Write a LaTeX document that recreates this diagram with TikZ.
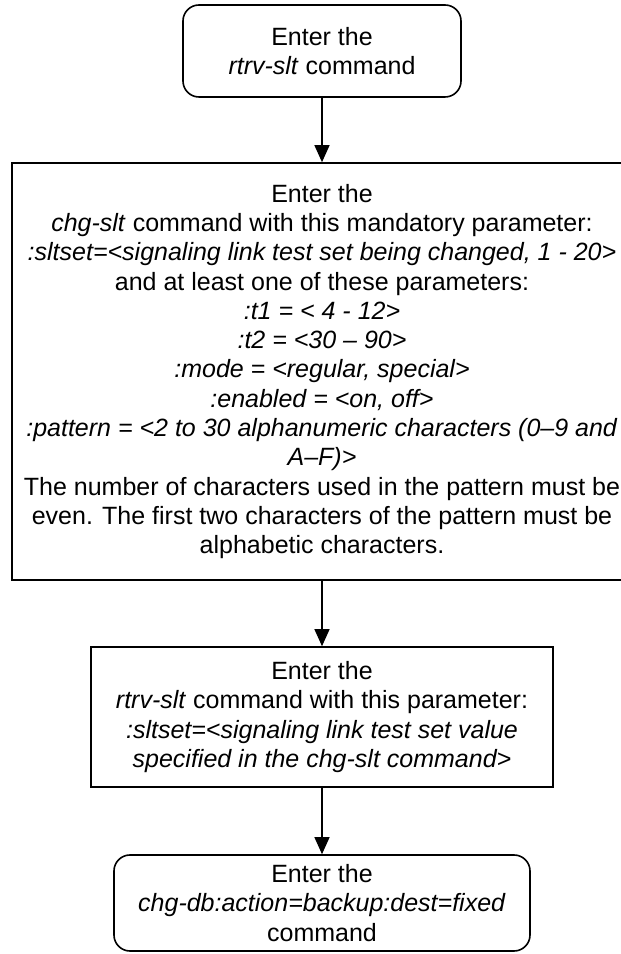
\documentclass[tikz,border=0pt]{standalone}
\usepackage{fontspec}
\setmainfont{Liberation Sans}
\usetikzlibrary{arrows.meta, positioning}

\begin{document}
\begin{tikzpicture}[x=1pt, y=1pt,
    stepbox/.style={draw, line width=1.6pt, align=center, inner sep=0pt,
      font=\fontsize{25}{29.3}\selectfont},
    termbox/.style={stepbox, rounded corners=16pt},
    flow/.style={-{Triangle[length=17pt, width=15pt]}, line width=1.2pt}]
  \useasboundingbox (0,0) rectangle (621,954);
  \node[termbox, minimum width=278, minimum height=92] (start) at (322,903)
    {Enter the\\ \textit{rtrv-slt} command};
  \node[stepbox, minimum width=620, minimum height=417] (chg) at (322,582.5)
    {Enter the\\
     \textit{chg-slt} command with this mandatory parameter:\\
     \textit{:sltset=<signaling link test set being changed, 1 - 20>}\\
     and at least one of these parameters:\\
     \textit{:t1 = < 4 - 12>}\\
     \textit{:t2 = <30 – 90>}\\
     \textit{:mode = <regular, special>}\\
     \textit{:enabled = <on, off>}\\
     \textit{:pattern = <2 to 30 alphanumeric characters (0–9 and}\\
     \textit{A–F)>}\\
     The number of characters used in the pattern must be\\
     even. The first two characters of the pattern must be\\
     alphabetic characters.};
  \node[stepbox, minimum width=462, minimum height=140] (check) at (322,237)
    {Enter the\\
     \textit{rtrv-slt} command with this parameter:\\
     \textit{:sltset=<signaling link test set value}\\
     \textit{specified in the chg-slt command>}};
  \node[termbox, minimum width=416, minimum height=96] (backup) at (322,51)
    {Enter the\\
     \textit{chg-db:action=backup:dest=fixed}\\
     command};
  \draw[flow] (start) -- (chg);
  \draw[flow] (chg) -- (check);
  \draw[flow] (check) -- (backup);
\end{tikzpicture}
\end{document}
